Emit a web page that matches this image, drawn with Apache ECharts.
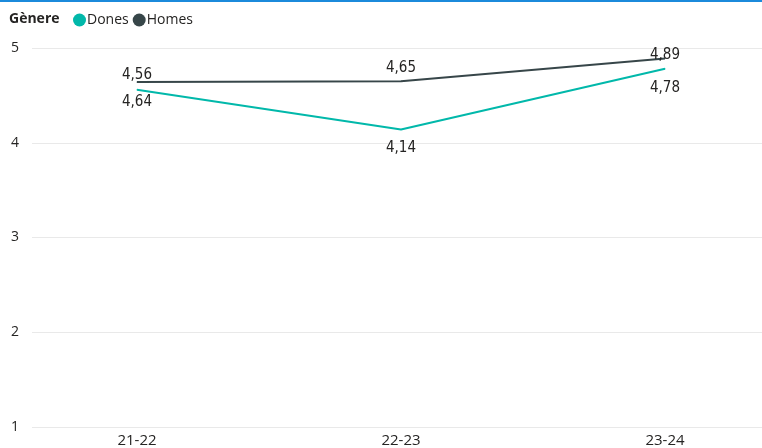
<!DOCTYPE html>
<html>
<head>
<meta charset="utf-8">
<script src="https://cdn.jsdelivr.net/npm/echarts@6/dist/echarts.min.js"></script>
<style>html,body{margin:0;padding:0;background:#fff}#c{width:762px;height:448px}</style>
</head>
<body>
<div id="c"></div>
<script>
const categories = ['21-22', '22-23', '23-24'];
const dones = [4.56, 4.14, 4.78];
const homes = [4.64, 4.65, 4.89];
const yTicks = [1, 2, 3, 4, 5];

const fmt = v => v.toFixed(2).replace('.', ',');
const labelFont = '"DejaVu Sans Condensed", "DejaVu Sans", sans-serif';

// label placement per point (style only): [position, distance]
const donesLabelPos = [['top', 7], ['bottom', 11], ['bottom', 11]];
const homesLabelPos = [['bottom', 12], ['top', 5], ['top', -5]];

function mk(vals, pos) {
  return vals.map((v, i) => ({
    value: v,
    label: { show: true, position: pos[i][0], distance: pos[i][1] }
  }));
}

const chart = echarts.init(document.getElementById('c'), null, { renderer: 'canvas' });
chart.setOption({
  animation: false,
  legend: {
    left: 68, top: 8, itemGap: 4, itemWidth: 13, itemHeight: 13,
    icon: 'circle',
    textStyle: { fontFamily: '"Open Sans", "Segoe UI", sans-serif', fontSize: 14, color: '#252423', padding: [0, 0, 0, -4] },
    data: ['Dones', 'Homes']
  },
  graphic: [
    { type: 'rect', shape: { x: 0, y: 0, width: 762, height: 2 }, style: { fill: '#1B8ADB' } },
    { type: 'text', left: 9, top: 12, style: { text: 'Gènere', font: 'bold 14px "Open Sans", sans-serif', fill: '#252423' } }
  ],
  grid: [
    { left: 32, right: 0, top: 48, bottom: 21 },
    { left: 137, right: 97, top: 48, bottom: 21 }
  ],
  xAxis: [
    { gridIndex: 0, type: 'category', data: categories, show: false },
    {
      gridIndex: 1, type: 'category', data: categories, boundaryGap: false,
      axisLine: { show: false }, axisTick: { show: false }, splitLine: { show: false },
      axisLabel: { margin: 6, fontSize: 15, color: '#252423', fontFamily: '"Open Sans", sans-serif' }
    }
  ],
  yAxis: [
    {
      gridIndex: 0, type: 'value', min: yTicks[0], max: yTicks[yTicks.length - 1], interval: 1,
      axisLine: { show: false }, axisTick: { show: false },
      splitLine: { lineStyle: { color: '#E9E9E9', width: 1 } },
      axisLabel: { margin: 13, fontSize: 14, color: '#252423', fontFamily: '"Open Sans", sans-serif' }
    },
    {
      gridIndex: 1, type: 'value', min: yTicks[0], max: yTicks[yTicks.length - 1], interval: 1,
      show: false, splitLine: { show: false }
    }
  ],
  series: [
    {
      name: 'Dones', type: 'line', xAxisIndex: 1, yAxisIndex: 1,
      data: mk(dones, donesLabelPos), showSymbol: true, symbol: 'circle', symbolSize: 1,
      itemStyle: { color: '#01B8AA' }, lineStyle: { color: '#01B8AA', width: 2 },
      label: { show: true, fontSize: 15, color: '#252423', fontFamily: labelFont, formatter: p => fmt(p.value) },
      labelLayout: { hideOverlap: false },
      z: 3
    },
    {
      name: 'Homes', type: 'line', xAxisIndex: 1, yAxisIndex: 1,
      data: mk(homes, homesLabelPos), showSymbol: true, symbol: 'circle', symbolSize: 1,
      itemStyle: { color: '#374649' }, lineStyle: { color: '#374649', width: 2 },
      label: { show: true, fontSize: 15, color: '#252423', fontFamily: labelFont, formatter: p => fmt(p.value) },
      labelLayout: { hideOverlap: false },
      z: 2
    }
  ]
});
</script>
</body>
</html>
